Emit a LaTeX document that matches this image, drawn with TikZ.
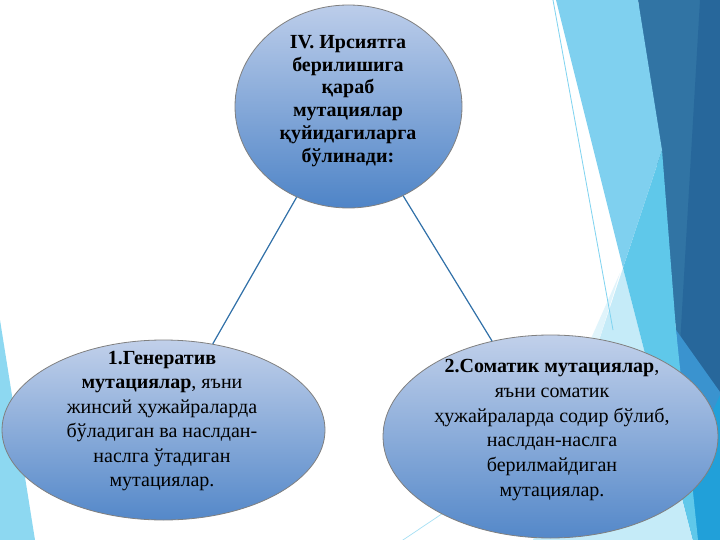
\documentclass[tikz,border=0pt]{standalone}
\usepackage{fontspec}
\setmainfont{Liberation Serif}
\usetikzlibrary{shapes.geometric}
\definecolor{steel}{HTML}{3174A4}
\definecolor{darkbl}{HTML}{27679B}
\definecolor{medbl}{HTML}{3A93CF}
\definecolor{cyanb}{HTML}{21A0D9}
\definecolor{lcyan}{HTML}{5FC8EA}
\definecolor{lblue}{HTML}{7FD0EF}
\definecolor{band}{HTML}{C5EBF8}
\definecolor{pale}{HTML}{E0F4FB}
\definecolor{leftbl}{HTML}{8DD8F1}
\definecolor{thinl}{HTML}{7FD3F0}
\definecolor{ellTop}{RGB}{193,208,234}
\definecolor{ellBot}{RGB}{84,136,201}
\definecolor{ellTopB}{RGB}{188,205,234}
\definecolor{ellBotB}{RGB}{78,132,199}
\definecolor{linkc}{HTML}{3070A8}
\tikzset{
  bubble/.style={ellipse, draw={rgb,255:red,128;green,128;blue,128}, line width=0.8pt,
    top color=ellTop, bottom color=ellBot, inner sep=0pt},
  link/.style={draw=linkc, line width=1.2pt},
  txt/.style={align=center, inner sep=0pt, text=black}
}
\begin{document}
\begin{tikzpicture}[x=1pt,y=-1pt]
\useasboundingbox (0,0) rectangle (720,540);
\fill[white] (0,0) rectangle (720,540);
% background facets
\fill[steel] (638,0) -- (720,0) -- (720,540) -- (698,540) -- (676,330) -- cycle;
\fill[darkbl] (700,0) -- (720,0) -- (720,400) -- (680,345) -- cycle;
\fill[medbl] (676,330) -- (720,392) -- (720,430) -- (700,540) -- (688,540) -- cycle;
\fill[cyanb] (720,395) -- (720,540) -- (650,540) -- (700,440) -- cycle;
\fill[band] (623,268) -- (693,540) -- (533,540) -- cycle;
\fill[lcyan] (662,150) -- (676,330) -- (698,540) -- (693,540) -- (623,268) -- cycle;
\fill[lblue] (556,0) -- (638,0) -- (662,150) -- (623,268) -- cycle;
\fill[pale] (620,273) -- (586,350) -- (596,350) -- cycle;
\draw[thinl, line width=0.8pt] (553,0) -- (613,330);
\draw[thinl!70, line width=0.7pt] (470,495) -- (400,542);
\fill[leftbl] (0,320) -- (35,540) -- (0,540) -- cycle;
% ellipses
\node[bubble, top color=ellTopB, bottom color=ellBotB, minimum width=227pt, minimum height=203pt] (top) at (348.5,106.5) {};
\node[bubble, minimum width=323pt, minimum height=180pt] (gen) at (163.5,430) {};
\node[bubble, minimum width=335pt, minimum height=203pt] (som) at (550.5,436.5) {};
\draw[link] (top) -- (gen);
\draw[link] (top) -- (som);
% texts
\node[txt, font=\fontsize{20}{22.8}\selectfont\bfseries] (ttop) at (348,101)
  {IV. Ирсиятга\\берилишига\\қараб\\мутациялар\\қуйидагиларга\\бўлинади:};
\node[txt, font=\fontsize{20}{24.4}\selectfont] (tgen) at (162,421)
  {\textbf{1.Генератив}\\\textbf{мутациялар}, яъни\\жинсий ҳужайраларда\\бўладиган ва наслдан-\\наслга ўтадиган\\мутациялар.};
\node[txt, font=\fontsize{20}{24.8}\selectfont] (tsom) at (552,430)
  {\textbf{2.Соматик мутациялар},\\яъни соматик\\ҳужайраларда содир бўлиб,\\наслдан-наслга\\берилмайдиган\\мутациялар.};
\end{tikzpicture}
\end{document}
